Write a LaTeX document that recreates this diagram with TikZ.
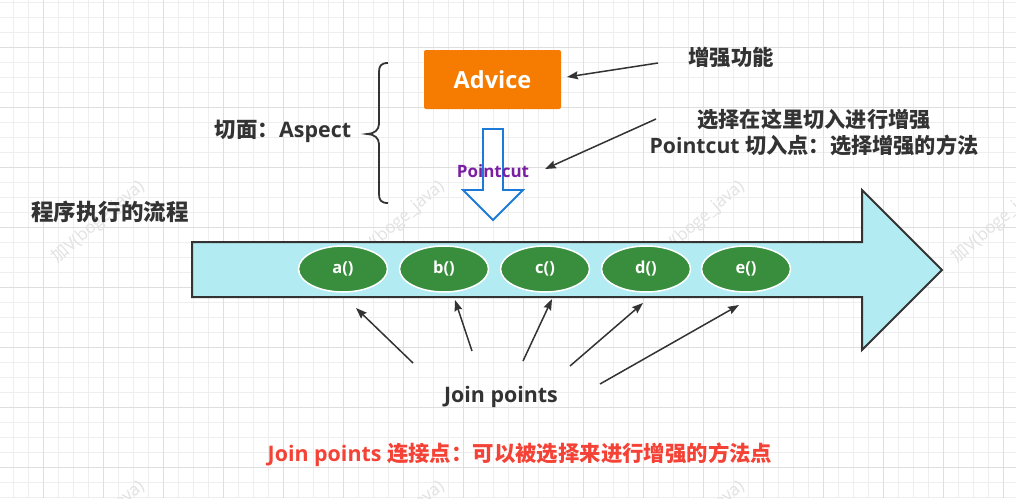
\documentclass[tikz,border=0pt]{standalone}
\usepackage{fontspec}
\setmainfont{Open Sans}
\newfontfamily\cjk{Noto Sans CJK SC}
\usetikzlibrary{arrows.meta,shapes.geometric}
\definecolor{gridminor}{RGB}{238,238,238}
\definecolor{gridmajor}{RGB}{222,222,222}
\definecolor{txt}{RGB}{51,51,51}
\definecolor{advorange}{RGB}{245,124,0}
\definecolor{flowcyan}{RGB}{178,235,242}
\definecolor{jpgreen}{RGB}{56,142,60}
\definecolor{pcblue}{RGB}{30,122,216}
\definecolor{pcpurple}{RGB}{123,31,162}
\definecolor{jpred}{RGB}{244,67,54}
\definecolor{wmark}{RGB}{226,226,226}
\tikzset{
  lbl/.style={text=txt, font=\bfseries\fontsize{21.4}{25}\selectfont, inner sep=0pt},
  arr/.style={draw=txt, line width=1.5pt, -{Stealth[length=11pt,width=8pt,inset=1.5pt]}},
  method/.style={ellipse, draw=white, line width=1.5pt, fill=jpgreen, minimum width=89pt, minimum height=46pt, inner sep=0pt, text=white, font=\bfseries\fontsize{16.5}{18}\selectfont},
  wm/.style={text=wmark, font=\fontsize{17}{20}\selectfont, rotate=41, inner sep=0pt},
}
\begin{document}
\begin{tikzpicture}[x=1pt,y=-1pt]
\useasboundingbox (0,0) rectangle (1016,498);
\clip (0,0) rectangle (1016,498);
\fill[white] (0,0) rectangle (1016,498);
% grid
\foreach \i in {0,...,67} {
  \draw[gridminor, line width=1pt] ({13.33+15*\i},0) -- ({13.33+15*\i},498);
}
\foreach \j in {0,...,33} {
  \draw[gridminor, line width=1pt] (0,{2.33+15*\j}) -- (1016,{2.33+15*\j});
}
\foreach \i in {0,...,16} {
  \draw[gridmajor, line width=1pt] ({43.33+60*\i},0) -- ({43.33+60*\i},498);
}
\foreach \j in {0,...,7} {
  \draw[gridmajor, line width=1pt] (0,{47.33+60*\j}) -- (1016,{47.33+60*\j});
}
% watermarks
\foreach \xx in {98,398,698,998} {
  \node[wm] at (\xx,222) {{\cjk 加}V(boge\_java)};
  \node[wm] at (\xx,522) {{\cjk 加}V(boge\_java)};
}
% big process arrow
\draw[draw=txt, line width=2pt, fill=flowcyan, line join=miter]
  (192,242) -- (862,242) -- (862,190) -- (942,270) -- (862,350) -- (862,297) -- (192,297) -- cycle;
% methods
\node[method] (ma) at (343,269) {a()};
\node[method] (mb) at (444,269) {b()};
\node[method] (mc) at (545,269) {c()};
\node[method] (md) at (646,269) {d()};
\node[method] (me) at (746,269) {e()};
% advice
\node[fill=advorange, rounded corners=2pt, minimum width=137pt, minimum height=59pt, inner sep=0pt,
  text=white, font=\bfseries\fontsize{23.5}{26}\selectfont] (advice) at (492.5,79.5) {Advice};
% pointcut hollow arrow
\draw[draw=pcblue, line width=1.8pt, fill=white, line join=miter]
  (483,129) -- (503,129) -- (503,190) -- (523,190) -- (493,220) -- (463,190) -- (483,190) -- cycle;
\node[text=pcpurple, font=\bfseries\fontsize{17}{19}\selectfont, inner sep=0pt] (pc) at (493,171) {Pointcut};
% brace
\draw[txt, line width=1.8pt]
  (388,63) .. controls (381,63) and (379,66) .. (379,72) -- (379,124)
  .. controls (379,130) and (374,134) .. (367,134)
  .. controls (374,134) and (379,138) .. (379,144) -- (379,194)
  .. controls (379,200) and (381,203) .. (388,203);
% labels
\node[lbl] (aspect) at (283,131) {{\cjk 切面：}Aspect};
\node[lbl, font=\bfseries\fontsize{22.5}{25}\selectfont] (flow) at (110,212) {\cjk 程序执行的流程};
\node[lbl] (enh) at (731,57) {\cjk 增强功能};
\node[lbl, align=center, font=\bfseries\fontsize{21.2}{26}\selectfont] (sel) at (814,133)
  {{\cjk 选择在这里切入进行增强}\\Pointcut {\cjk 切入点：选择增强的方法}};
\node[lbl] (jp) at (501,397) {Join points};
\node[lbl, text=jpred] (jpdef) at (520,455) {Join points {\cjk 连接点：可以被选择来进行增强的方法点}};
% arrow coordinates
\coordinate (advS) at (658,63);
\coordinate (advE) at (567,77);
\coordinate (pcS) at (656,119);
\coordinate (pcE) at (545,169);
\coordinate (j1s) at (413,363); \coordinate (j1e) at (356,308);
\coordinate (j2s) at (472,351); \coordinate (j2e) at (455,300);
\coordinate (j3s) at (523,361); \coordinate (j3e) at (552,299);
\coordinate (j4s) at (570,366); \coordinate (j4e) at (643,303);
\coordinate (j5s) at (600,384); \coordinate (j5e) at (739,305);
\draw[arr] (advS) -- (advE);
\draw[arr] (pcS) -- (pcE);
\draw[arr] (j1s) -- (j1e);
\draw[arr] (j2s) -- (j2e);
\draw[arr] (j3s) -- (j3e);
\draw[arr] (j4s) -- (j4e);
\draw[arr] (j5s) -- (j5e);
\end{tikzpicture}
\end{document}
